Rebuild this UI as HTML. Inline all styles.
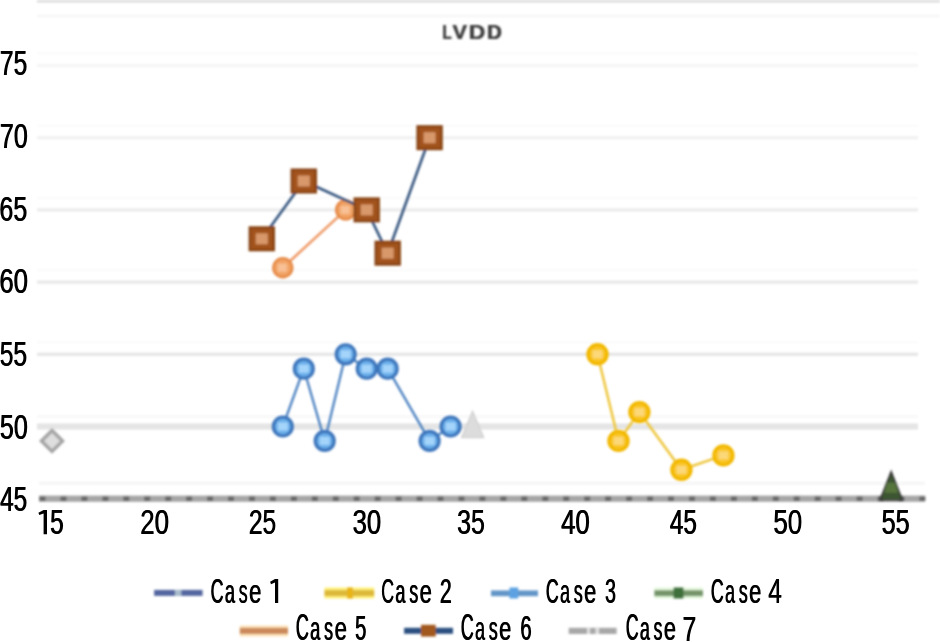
<!DOCTYPE html>
<html><head><meta charset="utf-8"><style>
html,body{margin:0;padding:0;background:#fff;width:940px;height:642px;overflow:hidden}
svg{display:block;will-change:transform}
</style></head><body>
<svg width="940" height="642" viewBox="0 0 940 642">
<defs><filter id="b1" x="-5%" y="-5%" width="110%" height="110%"><feGaussianBlur stdDeviation="0.85"/></filter><filter id="b2" x="-20%" y="-50%" width="140%" height="200%"><feGaussianBlur stdDeviation="0.85"/></filter></defs>
<rect width="940" height="642" fill="#fff"/>
<g filter="url(#b1)">
<rect x="37" y="0" width="903" height="2.5" fill="#dcdcdc"/>
<rect x="37" y="15" width="903" height="2" fill="#f4f4f4"/>
<rect x="37" y="64.0" width="881" height="3" fill="#f5f5f5"/>
<rect x="37" y="52.5" width="881" height="2" fill="#fafafa"/>
<rect x="37" y="136.2" width="881" height="3" fill="#f0f0f0"/>
<rect x="37" y="124.7" width="881" height="2" fill="#fafafa"/>
<rect x="37" y="208.4" width="881" height="3" fill="#eaeaea"/>
<rect x="37" y="196.9" width="881" height="2" fill="#fafafa"/>
<rect x="37" y="280.6" width="881" height="3" fill="#e7e7e7"/>
<rect x="37" y="269.1" width="881" height="2" fill="#fafafa"/>
<rect x="37" y="352.8" width="881" height="3" fill="#e4e4e4"/>
<rect x="37" y="341.3" width="881" height="2" fill="#fafafa"/>
<rect x="37" y="423.5" width="881" height="6" fill="#e4e4e4"/>
<rect x="37" y="415.5" width="881" height="2" fill="#f6f6f6"/>
<rect x="39" y="495.6" width="886" height="6.2" fill="#a6a6a6"/>
<rect x="39.5" y="496.5" width="6" height="4.4" fill="#686868"/><rect x="60.5" y="496.5" width="6" height="4.4" fill="#686868"/><rect x="81.4" y="496.5" width="6" height="4.4" fill="#686868"/><rect x="102.4" y="496.5" width="6" height="4.4" fill="#686868"/><rect x="123.3" y="496.5" width="6" height="4.4" fill="#686868"/><rect x="144.2" y="496.5" width="6" height="4.4" fill="#686868"/><rect x="165.2" y="496.5" width="6" height="4.4" fill="#686868"/><rect x="186.1" y="496.5" width="6" height="4.4" fill="#686868"/><rect x="207.1" y="496.5" width="6" height="4.4" fill="#686868"/><rect x="228.0" y="496.5" width="6" height="4.4" fill="#686868"/><rect x="249.0" y="496.5" width="6" height="4.4" fill="#686868"/><rect x="269.9" y="496.5" width="6" height="4.4" fill="#686868"/><rect x="290.9" y="496.5" width="6" height="4.4" fill="#686868"/><rect x="311.8" y="496.5" width="6" height="4.4" fill="#686868"/><rect x="332.8" y="496.5" width="6" height="4.4" fill="#686868"/><rect x="353.7" y="496.5" width="6" height="4.4" fill="#686868"/><rect x="374.7" y="496.5" width="6" height="4.4" fill="#686868"/><rect x="395.6" y="496.5" width="6" height="4.4" fill="#686868"/><rect x="416.6" y="496.5" width="6" height="4.4" fill="#686868"/><rect x="437.5" y="496.5" width="6" height="4.4" fill="#686868"/><rect x="458.5" y="496.5" width="6" height="4.4" fill="#686868"/><rect x="479.4" y="496.5" width="6" height="4.4" fill="#686868"/><rect x="500.4" y="496.5" width="6" height="4.4" fill="#686868"/><rect x="521.3" y="496.5" width="6" height="4.4" fill="#686868"/><rect x="542.3" y="496.5" width="6" height="4.4" fill="#686868"/><rect x="563.2" y="496.5" width="6" height="4.4" fill="#686868"/><rect x="584.2" y="496.5" width="6" height="4.4" fill="#686868"/><rect x="605.1" y="496.5" width="6" height="4.4" fill="#686868"/><rect x="626.1" y="496.5" width="6" height="4.4" fill="#686868"/><rect x="647.1" y="496.5" width="6" height="4.4" fill="#686868"/><rect x="668.0" y="496.5" width="6" height="4.4" fill="#686868"/><rect x="689.0" y="496.5" width="6" height="4.4" fill="#686868"/><rect x="709.9" y="496.5" width="6" height="4.4" fill="#686868"/><rect x="730.9" y="496.5" width="6" height="4.4" fill="#686868"/><rect x="751.8" y="496.5" width="6" height="4.4" fill="#686868"/><rect x="772.8" y="496.5" width="6" height="4.4" fill="#686868"/><rect x="793.7" y="496.5" width="6" height="4.4" fill="#686868"/><rect x="814.7" y="496.5" width="6" height="4.4" fill="#686868"/><rect x="835.6" y="496.5" width="6" height="4.4" fill="#686868"/><rect x="856.6" y="496.5" width="6" height="4.4" fill="#686868"/><rect x="877.5" y="496.5" width="6" height="4.4" fill="#686868"/><rect x="898.5" y="496.5" width="6" height="4.4" fill="#686868"/><rect x="919.4" y="496.5" width="6" height="4.4" fill="#686868"/>
<rect x="39" y="481.7" width="886" height="3" fill="#f5f5f5"/>
</g>
<text transform="matrix(0.24510 0 0 0.35000 -0.43 75.05)" font-family='"Liberation Sans", sans-serif' font-size="100" font-weight="normal" fill="#000"  >75</text><text transform="matrix(0.24510 0 0 0.35000 0.27 75.05)" font-family='"Liberation Sans", sans-serif' font-size="100" font-weight="normal" fill="#000"  >75</text>
<text transform="matrix(0.25000 0 0 0.34648 -0.45 147.85)" font-family='"Liberation Sans", sans-serif' font-size="100" font-weight="normal" fill="#000"  >70</text><text transform="matrix(0.25000 0 0 0.34648 0.25 147.85)" font-family='"Liberation Sans", sans-serif' font-size="100" font-weight="normal" fill="#000"  >70</text>
<text transform="matrix(0.25000 0 0 0.35352 -0.95 220.65)" font-family='"Liberation Sans", sans-serif' font-size="100" font-weight="normal" fill="#000"  >65</text><text transform="matrix(0.25000 0 0 0.35352 -0.25 220.65)" font-family='"Liberation Sans", sans-serif' font-size="100" font-weight="normal" fill="#000"  >65</text>
<text transform="matrix(0.25784 0 0 0.34930 -0.99 293.35)" font-family='"Liberation Sans", sans-serif' font-size="100" font-weight="normal" fill="#000"  >60</text><text transform="matrix(0.25784 0 0 0.34930 -0.29 293.35)" font-family='"Liberation Sans", sans-serif' font-size="100" font-weight="normal" fill="#000"  >60</text>
<text transform="matrix(0.24660 0 0 0.35000 -0.59 365.85)" font-family='"Liberation Sans", sans-serif' font-size="100" font-weight="normal" fill="#000"  >55</text><text transform="matrix(0.24660 0 0 0.35000 0.11 365.85)" font-family='"Liberation Sans", sans-serif' font-size="100" font-weight="normal" fill="#000"  >55</text>
<text transform="matrix(0.25049 0 0 0.35070 -0.50 438.55)" font-family='"Liberation Sans", sans-serif' font-size="100" font-weight="normal" fill="#000"  >50</text><text transform="matrix(0.25049 0 0 0.35070 0.20 438.55)" font-family='"Liberation Sans", sans-serif' font-size="100" font-weight="normal" fill="#000"  >50</text>
<text transform="matrix(0.24381 0 0 0.35286 -0.29 511.05)" font-family='"Liberation Sans", sans-serif' font-size="100" font-weight="normal" fill="#000"  >45</text><text transform="matrix(0.24381 0 0 0.35286 0.41 511.05)" font-family='"Liberation Sans", sans-serif' font-size="100" font-weight="normal" fill="#000"  >45</text>
<path d="M38.40 512.69 L43.60 509.90 L47.00 509.90 L47.00 534.20 L43.60 534.20 L43.60 513.50 L39.30 515.09 Z" fill="#000"/>
<text transform="matrix(0.24468 0 0 0.34571 49.82 534.05)" font-family='"Liberation Sans", sans-serif' font-size="100" font-weight="normal" fill="#000"  >5</text><text transform="matrix(0.24468 0 0 0.34571 50.52 534.05)" font-family='"Liberation Sans", sans-serif' font-size="100" font-weight="normal" fill="#000"  >5</text>
<text transform="matrix(0.25882 0 0 0.34930 139.91 534.05)" font-family='"Liberation Sans", sans-serif' font-size="100" font-weight="normal" fill="#000"  >20</text><text transform="matrix(0.25882 0 0 0.34930 140.61 534.05)" font-family='"Liberation Sans", sans-serif' font-size="100" font-weight="normal" fill="#000"  >20</text>
<text transform="matrix(0.24608 0 0 0.34930 248.47 534.05)" font-family='"Liberation Sans", sans-serif' font-size="100" font-weight="normal" fill="#000"  >25</text><text transform="matrix(0.24608 0 0 0.34930 249.17 534.05)" font-family='"Liberation Sans", sans-serif' font-size="100" font-weight="normal" fill="#000"  >25</text>
<text transform="matrix(0.25631 0 0 0.34930 352.37 534.05)" font-family='"Liberation Sans", sans-serif' font-size="100" font-weight="normal" fill="#000"  >30</text><text transform="matrix(0.25631 0 0 0.34930 353.07 534.05)" font-family='"Liberation Sans", sans-serif' font-size="100" font-weight="normal" fill="#000"  >30</text>
<text transform="matrix(0.24951 0 0 0.34930 456.80 534.05)" font-family='"Liberation Sans", sans-serif' font-size="100" font-weight="normal" fill="#000"  >35</text><text transform="matrix(0.24951 0 0 0.34930 457.50 534.05)" font-family='"Liberation Sans", sans-serif' font-size="100" font-weight="normal" fill="#000"  >35</text>
<text transform="matrix(0.25810 0 0 0.34930 560.68 534.05)" font-family='"Liberation Sans", sans-serif' font-size="100" font-weight="normal" fill="#000"  >40</text><text transform="matrix(0.25810 0 0 0.34930 561.38 534.05)" font-family='"Liberation Sans", sans-serif' font-size="100" font-weight="normal" fill="#000"  >40</text>
<text transform="matrix(0.24286 0 0 0.35429 669.51 534.05)" font-family='"Liberation Sans", sans-serif' font-size="100" font-weight="normal" fill="#000"  >45</text><text transform="matrix(0.24286 0 0 0.35429 670.21 534.05)" font-family='"Liberation Sans", sans-serif' font-size="100" font-weight="normal" fill="#000"  >45</text>
<text transform="matrix(0.26019 0 0 0.34930 772.96 534.05)" font-family='"Liberation Sans", sans-serif' font-size="100" font-weight="normal" fill="#000"  >50</text><text transform="matrix(0.26019 0 0 0.34930 773.66 534.05)" font-family='"Liberation Sans", sans-serif' font-size="100" font-weight="normal" fill="#000"  >50</text>
<text transform="matrix(0.25243 0 0 0.35429 881.29 534.05)" font-family='"Liberation Sans", sans-serif' font-size="100" font-weight="normal" fill="#000"  >55</text><text transform="matrix(0.25243 0 0 0.35429 881.99 534.05)" font-family='"Liberation Sans", sans-serif' font-size="100" font-weight="normal" fill="#000"  >55</text>
<g filter="url(#b2)"><text transform="matrix(0.15098 0 0 0.21014 442.14 38.50)" font-family='"Liberation Sans", sans-serif' font-size="100" font-weight="bold" fill="#3c3c3c"  >L</text><text transform="matrix(0.15098 0 0 0.21014 442.74 38.50)" font-family='"Liberation Sans", sans-serif' font-size="100" font-weight="bold" fill="#3c3c3c"  >L</text><text transform="matrix(0.21846 0 0 0.21014 452.18 38.50)" font-family='"Liberation Sans", sans-serif' font-size="100" font-weight="bold" fill="#3c3c3c"  >V</text><text transform="matrix(0.21846 0 0 0.21014 452.78 38.50)" font-family='"Liberation Sans", sans-serif' font-size="100" font-weight="bold" fill="#3c3c3c"  >V</text><text transform="matrix(0.22951 0 0 0.21014 468.39 38.50)" font-family='"Liberation Sans", sans-serif' font-size="100" font-weight="bold" fill="#3c3c3c"  >D</text><text transform="matrix(0.22951 0 0 0.21014 468.99 38.50)" font-family='"Liberation Sans", sans-serif' font-size="100" font-weight="bold" fill="#3c3c3c"  >D</text><text transform="matrix(0.20328 0 0 0.21014 486.78 38.50)" font-family='"Liberation Sans", sans-serif' font-size="100" font-weight="bold" fill="#3c3c3c"  >D</text><text transform="matrix(0.20328 0 0 0.21014 487.38 38.50)" font-family='"Liberation Sans", sans-serif' font-size="100" font-weight="bold" fill="#3c3c3c"  >D</text></g>
<g filter="url(#b1)">
<path d="M52.0 430.4 L62.5 440.9 L52.0 451.4 L41.5 440.9 Z" fill="#dedede" stroke="#a4a4a4" stroke-width="3.5"/>
<path d="M472.6 411.5 L483.6 437.5 L461.6 437.5 Z" fill="#dcdcdc" stroke="#d2d2d2" stroke-width="1.5"/>
<polyline points="282.8,267.7 345.7,209.9" fill="none" stroke="#ee9a66" stroke-width="2.6" stroke-linejoin="round"/>
<circle cx="282.8" cy="267.7" r="9.4" fill="#f2a466" stroke="#e68a46" stroke-width="2.6"/>
<rect x="277.8" y="263.7" width="9" height="8" fill="#f8c094"/>
<circle cx="345.7" cy="209.9" r="9.4" fill="#f2a466" stroke="#e68a46" stroke-width="2.6"/>
<rect x="340.7" y="205.9" width="9" height="8" fill="#f8c094"/>
<polyline points="261.8,238.8 303.8,181.0 366.7,209.9 387.7,253.2 429.6,137.7" fill="none" stroke="#34547e" stroke-width="2.6" stroke-linejoin="round"/>
<rect x="249.8" y="227.5" width="24" height="22.6" fill="#a2521a" stroke="#884412" stroke-width="2.4"/>
<rect x="255.8" y="233.3" width="12" height="11" fill="#d8986a"/>
<rect x="291.8" y="169.7" width="24" height="22.6" fill="#a2521a" stroke="#884412" stroke-width="2.4"/>
<rect x="297.8" y="175.5" width="12" height="11" fill="#d8986a"/>
<rect x="354.7" y="198.6" width="24" height="22.6" fill="#a2521a" stroke="#884412" stroke-width="2.4"/>
<rect x="360.7" y="204.4" width="12" height="11" fill="#d8986a"/>
<rect x="375.7" y="241.9" width="24" height="22.6" fill="#a2521a" stroke="#884412" stroke-width="2.4"/>
<rect x="381.7" y="247.7" width="12" height="11" fill="#d8986a"/>
<rect x="417.6" y="126.4" width="24" height="22.6" fill="#a2521a" stroke="#884412" stroke-width="2.4"/>
<rect x="423.6" y="132.2" width="12" height="11" fill="#d8986a"/>
<polyline points="282.8,426.5 303.8,368.7 324.7,440.9 345.7,354.3 366.7,368.7 387.7,368.7 429.6,440.9 450.6,426.5" fill="none" stroke="#4a80c0" stroke-width="2.3" stroke-linejoin="round"/>
<circle cx="282.8" cy="426.5" r="9.4" fill="#6cb0ec" stroke="#3e76bc" stroke-width="3.4"/>
<rect x="277.8" y="422.5" width="10" height="8" fill="#a4d4fa"/>
<circle cx="303.8" cy="368.7" r="9.4" fill="#6cb0ec" stroke="#3e76bc" stroke-width="3.4"/>
<rect x="298.8" y="364.7" width="10" height="8" fill="#a4d4fa"/>
<circle cx="324.7" cy="440.9" r="9.4" fill="#6cb0ec" stroke="#3e76bc" stroke-width="3.4"/>
<rect x="319.7" y="436.9" width="10" height="8" fill="#a4d4fa"/>
<circle cx="345.7" cy="354.3" r="9.4" fill="#6cb0ec" stroke="#3e76bc" stroke-width="3.4"/>
<rect x="340.7" y="350.3" width="10" height="8" fill="#a4d4fa"/>
<circle cx="366.7" cy="368.7" r="9.4" fill="#6cb0ec" stroke="#3e76bc" stroke-width="3.4"/>
<rect x="361.7" y="364.7" width="10" height="8" fill="#a4d4fa"/>
<circle cx="387.7" cy="368.7" r="9.4" fill="#6cb0ec" stroke="#3e76bc" stroke-width="3.4"/>
<rect x="382.7" y="364.7" width="10" height="8" fill="#a4d4fa"/>
<circle cx="429.6" cy="440.9" r="9.4" fill="#6cb0ec" stroke="#3e76bc" stroke-width="3.4"/>
<rect x="424.6" y="436.9" width="10" height="8" fill="#a4d4fa"/>
<circle cx="450.6" cy="426.5" r="9.4" fill="#6cb0ec" stroke="#3e76bc" stroke-width="3.4"/>
<rect x="445.6" y="422.5" width="10" height="8" fill="#a4d4fa"/>
<polyline points="597.5,354.3 618.5,440.9 639.4,412.1 681.4,469.8 723.4,455.4" fill="none" stroke="#eec63c" stroke-width="2.5" stroke-linejoin="round"/>
<circle cx="597.5" cy="354.3" r="9.5" fill="#fac624" stroke="#f2b800" stroke-width="3.4"/>
<rect x="592.5" y="350.3" width="10" height="8" fill="#fcd878"/>
<circle cx="618.5" cy="440.9" r="9.5" fill="#fac624" stroke="#f2b800" stroke-width="3.4"/>
<rect x="613.5" y="436.9" width="10" height="8" fill="#fcd878"/>
<circle cx="639.4" cy="412.1" r="9.5" fill="#fac624" stroke="#f2b800" stroke-width="3.4"/>
<rect x="634.4" y="408.1" width="10" height="8" fill="#fcd878"/>
<circle cx="681.4" cy="469.8" r="9.5" fill="#fac624" stroke="#f2b800" stroke-width="3.4"/>
<rect x="676.4" y="465.8" width="10" height="8" fill="#fcd878"/>
<circle cx="723.4" cy="455.4" r="9.5" fill="#fac624" stroke="#f2b800" stroke-width="3.4"/>
<rect x="718.4" y="451.4" width="10" height="8" fill="#fcd878"/>
<path d="M891.2 471.7 L902.2 499.7 L880.2 499.7 Z" fill="#3e5632" stroke="#343434" stroke-width="1.6"/>
<path d="M887.2 482.7 L895.2 482.7 L898.2 492.7 L884.2 492.7 Z" fill="#56743e"/>
</g>
<g filter="url(#b1)">
<rect x="154.1" y="589.9" width="48.5" height="6" fill="#5466a0"/>
<rect x="175" y="589.9" width="6.3" height="6" fill="#a8bccc"/>
<rect x="324.5" y="587.5" width="49.7" height="11" fill="#fff07a"/>
<rect x="324.5" y="590.1" width="49.7" height="6" fill="#dcb83a"/>
<rect x="347" y="587.5" width="6" height="11" fill="#e8b414"/>
<rect x="491" y="590.4" width="47" height="5.8" fill="#6496c8"/>
<rect x="509.5" y="587.5" width="8.7" height="11" fill="#5ba2e2"/>
<rect x="654.4" y="587.5" width="48.5" height="11" fill="#e4f8dc"/>
<rect x="654.4" y="590.2" width="48.5" height="6" fill="#74946a"/>
<rect x="673.5" y="587.5" width="10" height="11" fill="#3c703a"/>
<rect x="239.8" y="625.5" width="48.2" height="11" fill="#fde2b8"/>
<rect x="239.8" y="627.8" width="48.2" height="6.2" fill="#cc8a5c"/>
<rect x="404.1" y="627.8" width="48.9" height="6" fill="#2a5080"/>
<rect x="421" y="624.8" width="14.7" height="11.8" fill="#a2581e"/>
<rect x="568.7" y="627.8" width="47.9" height="6.2" fill="#a8a8a8"/>
<rect x="587" y="627.8" width="3" height="6.2" fill="#e0e0e0"/>
<rect x="595.5" y="627.8" width="3.5" height="6.2" fill="#e0e0e0"/>
</g>
<text transform="matrix(0.17854 0 0 0.35915 210.21 603.24)" font-family='"Liberation Sans", sans-serif' font-size="100" font-weight="normal" fill="#000"  >C</text><text transform="matrix(0.17854 0 0 0.35915 210.91 603.24)" font-family='"Liberation Sans", sans-serif' font-size="100" font-weight="normal" fill="#000"  >C</text>
<text transform="matrix(0.18156 0 0 0.33455 224.43 603.27)" font-family='"Liberation Sans", sans-serif' font-size="100" font-weight="normal" fill="#000"  >a</text><text transform="matrix(0.18156 0 0 0.33455 225.13 603.27)" font-family='"Liberation Sans", sans-serif' font-size="100" font-weight="normal" fill="#000"  >a</text>
<text transform="matrix(0.17753 0 0 0.33455 238.38 603.27)" font-family='"Liberation Sans", sans-serif' font-size="100" font-weight="normal" fill="#000"  >s</text><text transform="matrix(0.17753 0 0 0.33455 239.08 603.27)" font-family='"Liberation Sans", sans-serif' font-size="100" font-weight="normal" fill="#000"  >s</text>
<text transform="matrix(0.22010 0 0 0.33455 248.78 603.27)" font-family='"Liberation Sans", sans-serif' font-size="100" font-weight="normal" fill="#000"  >e</text><text transform="matrix(0.22010 0 0 0.33455 249.48 603.27)" font-family='"Liberation Sans", sans-serif' font-size="100" font-weight="normal" fill="#000"  >e</text>
<path d="M270.10 581.77 L275.00 579.00 L278.20 579.00 L278.20 603.10 L275.00 603.10 L275.00 582.60 L271.00 584.17 Z" fill="#000"/>
<text transform="matrix(0.17778 0 0 0.35915 380.91 603.24)" font-family='"Liberation Sans", sans-serif' font-size="100" font-weight="normal" fill="#000"  >C</text><text transform="matrix(0.17778 0 0 0.35915 381.61 603.24)" font-family='"Liberation Sans", sans-serif' font-size="100" font-weight="normal" fill="#000"  >C</text>
<text transform="matrix(0.18077 0 0 0.33455 395.08 603.27)" font-family='"Liberation Sans", sans-serif' font-size="100" font-weight="normal" fill="#000"  >a</text><text transform="matrix(0.18077 0 0 0.33455 395.78 603.27)" font-family='"Liberation Sans", sans-serif' font-size="100" font-weight="normal" fill="#000"  >a</text>
<text transform="matrix(0.17674 0 0 0.33455 408.97 603.27)" font-family='"Liberation Sans", sans-serif' font-size="100" font-weight="normal" fill="#000"  >s</text><text transform="matrix(0.17674 0 0 0.33455 409.67 603.27)" font-family='"Liberation Sans", sans-serif' font-size="100" font-weight="normal" fill="#000"  >s</text>
<text transform="matrix(0.21915 0 0 0.33455 419.32 603.27)" font-family='"Liberation Sans", sans-serif' font-size="100" font-weight="normal" fill="#000"  >e</text><text transform="matrix(0.21915 0 0 0.33455 420.02 603.27)" font-family='"Liberation Sans", sans-serif' font-size="100" font-weight="normal" fill="#000"  >e</text>
<text transform="matrix(0.21304 0 0 0.35143 439.43 603.10)" font-family='"Liberation Sans", sans-serif' font-size="100" font-weight="normal" fill="#000"  >2</text><text transform="matrix(0.21304 0 0 0.35143 440.13 603.10)" font-family='"Liberation Sans", sans-serif' font-size="100" font-weight="normal" fill="#000"  >2</text>
<text transform="matrix(0.17740 0 0 0.35915 545.51 603.24)" font-family='"Liberation Sans", sans-serif' font-size="100" font-weight="normal" fill="#000"  >C</text><text transform="matrix(0.17740 0 0 0.35915 546.21 603.24)" font-family='"Liberation Sans", sans-serif' font-size="100" font-weight="normal" fill="#000"  >C</text>
<text transform="matrix(0.18038 0 0 0.33455 559.65 603.27)" font-family='"Liberation Sans", sans-serif' font-size="100" font-weight="normal" fill="#000"  >a</text><text transform="matrix(0.18038 0 0 0.33455 560.35 603.27)" font-family='"Liberation Sans", sans-serif' font-size="100" font-weight="normal" fill="#000"  >a</text>
<text transform="matrix(0.17635 0 0 0.33455 573.51 603.27)" font-family='"Liberation Sans", sans-serif' font-size="100" font-weight="normal" fill="#000"  >s</text><text transform="matrix(0.17635 0 0 0.33455 574.21 603.27)" font-family='"Liberation Sans", sans-serif' font-size="100" font-weight="normal" fill="#000"  >s</text>
<text transform="matrix(0.21868 0 0 0.33455 583.85 603.27)" font-family='"Liberation Sans", sans-serif' font-size="100" font-weight="normal" fill="#000"  >e</text><text transform="matrix(0.21868 0 0 0.33455 584.55 603.27)" font-family='"Liberation Sans", sans-serif' font-size="100" font-weight="normal" fill="#000"  >e</text>
<text transform="matrix(0.19362 0 0 0.35352 604.73 603.25)" font-family='"Liberation Sans", sans-serif' font-size="100" font-weight="normal" fill="#000"  >3</text><text transform="matrix(0.19362 0 0 0.35352 605.43 603.25)" font-family='"Liberation Sans", sans-serif' font-size="100" font-weight="normal" fill="#000"  >3</text>
<text transform="matrix(0.17740 0 0 0.35915 710.51 603.24)" font-family='"Liberation Sans", sans-serif' font-size="100" font-weight="normal" fill="#000"  >C</text><text transform="matrix(0.17740 0 0 0.35915 711.21 603.24)" font-family='"Liberation Sans", sans-serif' font-size="100" font-weight="normal" fill="#000"  >C</text>
<text transform="matrix(0.18038 0 0 0.33455 724.65 603.27)" font-family='"Liberation Sans", sans-serif' font-size="100" font-weight="normal" fill="#000"  >a</text><text transform="matrix(0.18038 0 0 0.33455 725.35 603.27)" font-family='"Liberation Sans", sans-serif' font-size="100" font-weight="normal" fill="#000"  >a</text>
<text transform="matrix(0.17635 0 0 0.33455 738.51 603.27)" font-family='"Liberation Sans", sans-serif' font-size="100" font-weight="normal" fill="#000"  >s</text><text transform="matrix(0.17635 0 0 0.33455 739.21 603.27)" font-family='"Liberation Sans", sans-serif' font-size="100" font-weight="normal" fill="#000"  >s</text>
<text transform="matrix(0.21868 0 0 0.33455 748.85 603.27)" font-family='"Liberation Sans", sans-serif' font-size="100" font-weight="normal" fill="#000"  >e</text><text transform="matrix(0.21868 0 0 0.33455 749.55 603.27)" font-family='"Liberation Sans", sans-serif' font-size="100" font-weight="normal" fill="#000"  >e</text>
<text transform="matrix(0.24510 0 0 0.35294 767.91 603.35)" font-family='"Liberation Sans", sans-serif' font-size="100" font-weight="normal" fill="#000"  >4</text><text transform="matrix(0.24510 0 0 0.35294 768.61 603.35)" font-family='"Liberation Sans", sans-serif' font-size="100" font-weight="normal" fill="#000"  >4</text>
<text transform="matrix(0.17931 0 0 0.36056 295.50 640.44)" font-family='"Liberation Sans", sans-serif' font-size="100" font-weight="normal" fill="#000"  >C</text><text transform="matrix(0.17931 0 0 0.36056 296.20 640.44)" font-family='"Liberation Sans", sans-serif' font-size="100" font-weight="normal" fill="#000"  >C</text>
<text transform="matrix(0.18234 0 0 0.33636 309.78 640.46)" font-family='"Liberation Sans", sans-serif' font-size="100" font-weight="normal" fill="#000"  >a</text><text transform="matrix(0.18234 0 0 0.33636 310.48 640.46)" font-family='"Liberation Sans", sans-serif' font-size="100" font-weight="normal" fill="#000"  >a</text>
<text transform="matrix(0.17831 0 0 0.33636 323.79 640.46)" font-family='"Liberation Sans", sans-serif' font-size="100" font-weight="normal" fill="#000"  >s</text><text transform="matrix(0.17831 0 0 0.33636 324.49 640.46)" font-family='"Liberation Sans", sans-serif' font-size="100" font-weight="normal" fill="#000"  >s</text>
<text transform="matrix(0.22104 0 0 0.33636 334.23 640.46)" font-family='"Liberation Sans", sans-serif' font-size="100" font-weight="normal" fill="#000"  >e</text><text transform="matrix(0.22104 0 0 0.33636 334.93 640.46)" font-family='"Liberation Sans", sans-serif' font-size="100" font-weight="normal" fill="#000"  >e</text>
<text transform="matrix(0.20213 0 0 0.35286 354.69 640.45)" font-family='"Liberation Sans", sans-serif' font-size="100" font-weight="normal" fill="#000"  >5</text><text transform="matrix(0.20213 0 0 0.35286 355.39 640.45)" font-family='"Liberation Sans", sans-serif' font-size="100" font-weight="normal" fill="#000"  >5</text>
<text transform="matrix(0.17740 0 0 0.36056 460.51 640.44)" font-family='"Liberation Sans", sans-serif' font-size="100" font-weight="normal" fill="#000"  >C</text><text transform="matrix(0.17740 0 0 0.36056 461.21 640.44)" font-family='"Liberation Sans", sans-serif' font-size="100" font-weight="normal" fill="#000"  >C</text>
<text transform="matrix(0.18038 0 0 0.33636 474.65 640.46)" font-family='"Liberation Sans", sans-serif' font-size="100" font-weight="normal" fill="#000"  >a</text><text transform="matrix(0.18038 0 0 0.33636 475.35 640.46)" font-family='"Liberation Sans", sans-serif' font-size="100" font-weight="normal" fill="#000"  >a</text>
<text transform="matrix(0.17635 0 0 0.33636 488.51 640.46)" font-family='"Liberation Sans", sans-serif' font-size="100" font-weight="normal" fill="#000"  >s</text><text transform="matrix(0.17635 0 0 0.33636 489.21 640.46)" font-family='"Liberation Sans", sans-serif' font-size="100" font-weight="normal" fill="#000"  >s</text>
<text transform="matrix(0.21868 0 0 0.33636 498.85 640.46)" font-family='"Liberation Sans", sans-serif' font-size="100" font-weight="normal" fill="#000"  >e</text><text transform="matrix(0.21868 0 0 0.33636 499.55 640.46)" font-family='"Liberation Sans", sans-serif' font-size="100" font-weight="normal" fill="#000"  >e</text>
<text transform="matrix(0.20217 0 0 0.35493 519.99 640.45)" font-family='"Liberation Sans", sans-serif' font-size="100" font-weight="normal" fill="#000"  >6</text><text transform="matrix(0.20217 0 0 0.35493 520.69 640.45)" font-family='"Liberation Sans", sans-serif' font-size="100" font-weight="normal" fill="#000"  >6</text>
<text transform="matrix(0.17587 0 0 0.36056 625.52 640.44)" font-family='"Liberation Sans", sans-serif' font-size="100" font-weight="normal" fill="#000"  >C</text><text transform="matrix(0.17587 0 0 0.36056 626.22 640.44)" font-family='"Liberation Sans", sans-serif' font-size="100" font-weight="normal" fill="#000"  >C</text>
<text transform="matrix(0.17880 0 0 0.33636 639.54 640.46)" font-family='"Liberation Sans", sans-serif' font-size="100" font-weight="normal" fill="#000"  >a</text><text transform="matrix(0.17880 0 0 0.33636 640.24 640.46)" font-family='"Liberation Sans", sans-serif' font-size="100" font-weight="normal" fill="#000"  >a</text>
<text transform="matrix(0.17479 0 0 0.33636 653.30 640.46)" font-family='"Liberation Sans", sans-serif' font-size="100" font-weight="normal" fill="#000"  >s</text><text transform="matrix(0.17479 0 0 0.33636 654.00 640.46)" font-family='"Liberation Sans", sans-serif' font-size="100" font-weight="normal" fill="#000"  >s</text>
<text transform="matrix(0.21678 0 0 0.33636 663.54 640.46)" font-family='"Liberation Sans", sans-serif' font-size="100" font-weight="normal" fill="#000"  >e</text><text transform="matrix(0.21678 0 0 0.33636 664.24 640.46)" font-family='"Liberation Sans", sans-serif' font-size="100" font-weight="normal" fill="#000"  >e</text>
<text transform="matrix(0.24348 0 0 0.35441 682.18 640.55)" font-family='"Liberation Sans", sans-serif' font-size="100" font-weight="normal" fill="#000"  >7</text><text transform="matrix(0.24348 0 0 0.35441 682.88 640.55)" font-family='"Liberation Sans", sans-serif' font-size="100" font-weight="normal" fill="#000"  >7</text>
</svg>
</body></html>
